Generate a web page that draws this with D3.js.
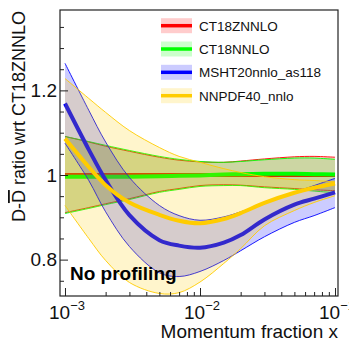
<!DOCTYPE html>
<html><head><meta charset="utf-8">
<script src="https://cdn.jsdelivr.net/npm/d3@7"></script>
<style>
html,body{margin:0;padding:0;background:#fff;}
svg{display:block;font-family:"Liberation Sans",Arial,Helvetica,sans-serif;}
</style></head>
<body>
<svg id="c" width="349" height="349"></svg>
<script>
// ---- data ----
const xValues = [0.001, 0.0015, 0.002, 0.003, 0.005, 0.007, 0.01, 0.015, 0.02, 0.03, 0.05, 0.07, 0.1];

const ct18zCentral = [1,1,1,1,1,1,1,1,1,1,1,1,1];
const ct18zUpper   = [1.091,1.078,1.068,1.056,1.042,1.035,1.031,1.030,1.033,1.038,1.043,1.044,1.042];
const ct18zLower   = [0.911,0.923,0.932,0.944,0.961,0.968,0.975,0.977,0.976,0.972,0.968,0.965,0.963];

const ct18Central  = [0.996,0.996,0.996,0.996,0.997,0.998,0.999,1.001,1.002,1.003,1.003,1.002,1.001];
const ct18Upper    = [1.091,1.079,1.070,1.058,1.044,1.037,1.032,1.030,1.032,1.036,1.040,1.040,1.037];
const ct18Lower    = [0.909,0.921,0.930,0.942,0.959,0.966,0.973,0.975,0.975,0.970,0.966,0.962,0.958];

const mshtCentral  = [1.169,1.060,0.988,0.905,0.846,0.833,0.828,0.840,0.858,0.895,0.930,0.944,0.959];
const mshtUpper    = [1.264,1.153,1.078,0.994,0.928,0.904,0.893,0.901,0.913,0.933,0.959,0.975,0.992];
const mshtLower    = [1.075,0.987,0.913,0.831,0.769,0.760,0.772,0.798,0.821,0.854,0.888,0.904,0.923];

const nnpdfCentral = [1.086,1.019,0.976,0.935,0.906,0.892,0.886,0.896,0.910,0.934,0.958,0.970,0.980];
const nnpdfUpper   = [1.228,1.181,1.148,1.105,1.065,1.044,1.030,1.015,1.006,0.996,0.989,0.987,0.984];
const nnpdfLower   = [0.928,0.850,0.798,0.746,0.720,0.722,0.747,0.791,0.826,0.880,0.916,0.935,0.951];

const seriesNames  = ["CT18ZNNLO","CT18NNLO","MSHT20nnlo_as118","NNPDF40_nnlo"];
const seriesColors = ["#ff0000","#00ff00","#0000ff","#ffcc00"];

const xMajorTicks = [0.001, 0.01, 0.1];
const xTickExponents = ["\u22123","\u22122","\u22121"];
const yMajorTicks = [0.8, 1.0, 1.2];
const yTickLabels = ["0.8","1","1.2"];

// ---- layout ----
const svg = d3.select("#c");
const L = 60, R = 338, T = 10, B = 296;

const x = d3.scaleLog().domain([Math.pow(10,-3.037), Math.pow(10,-0.978)]).range([L, R]);
const y = d3.scaleLinear().domain([0.714, 1.39]).range([B, T]);

const series = [
  {c: ct18zCentral, u: ct18zUpper, l: ct18zLower},
  {c: ct18Central,  u: ct18Upper,  l: ct18Lower},
  {c: mshtCentral,  u: mshtUpper,  l: mshtLower},
  {c: nnpdfCentral, u: nnpdfUpper, l: nnpdfLower}
];

const curve = d3.curveCatmullRom.alpha(0.5);
const area = (u,l) => d3.area().curve(curve).x((d,i)=>x(xValues[i])).y0((d,i)=>y(l[i])).y1((d,i)=>y(u[i]));
const line = arr => d3.line().curve(curve).x((d,i)=>x(xValues[i])).y((d,i)=>y(arr[i]));

const plot = svg.append("g");
series.forEach((s, k) => {
  const col = seriesColors[k];
  plot.append("path").attr("d", area(s.u, s.l)(xValues))
    .attr("fill", col).attr("fill-opacity", 0.2).attr("stroke", "none");
  plot.append("path").attr("d", line(s.u)(xValues)).attr("fill","none").attr("stroke", col).attr("stroke-width", 0.9);
  plot.append("path").attr("d", line(s.l)(xValues)).attr("fill","none").attr("stroke", col).attr("stroke-width", 0.9);
  plot.append("path").attr("d", line(s.c)(xValues)).attr("fill","none").attr("stroke", col).attr("stroke-width", 4);
});

// ---- axes ----
const xMinor = [];
[0.001,0.01].forEach(d => { for (let m=2;m<=9;m++) xMinor.push(d*m); });
const yMinor = d3.range(0.75, 1.38, 0.05).map(v=>+v.toFixed(2)).filter(v => !yMajorTicks.some(t=>Math.abs(t-v)<1e-6));

const gx = svg.append("g").attr("transform", `translate(0,${B})`);
gx.call(d3.axisBottom(x).tickValues(xMajorTicks).tickSize(-8).tickFormat(""));
const gx2 = svg.append("g").attr("transform", `translate(0,${B})`);
gx2.call(d3.axisBottom(x).tickValues(xMinor).tickSize(-4).tickFormat(""));
const gy = svg.append("g").attr("transform", `translate(${L},0)`);
gy.call(d3.axisLeft(y).tickValues(yMajorTicks).tickSize(-8).tickPadding(3).tickFormat((d,i)=>yTickLabels[i]));
const gy2 = svg.append("g").attr("transform", `translate(${L},0)`);
gy2.call(d3.axisLeft(y).tickValues(yMinor).tickSize(-4).tickFormat(""));
svg.selectAll(".domain").remove();
svg.selectAll(".tick line").attr("stroke","#222").attr("stroke-width",1);
gy.selectAll(".tick text").attr("font-size", 19).attr("fill","#111")
  .attr("font-family","Liberation Sans, Arial, sans-serif");

// frame
svg.append("rect").attr("x",L).attr("y",T).attr("width",R-L).attr("height",B-T)
  .attr("fill","none").attr("stroke","#222").attr("stroke-width",1.2);

// x tick labels with superscripts
xMajorTicks.forEach((t,i) => {
  const tx = svg.append("text").attr("x", x(t)-16).attr("y", 319).attr("font-size",19).attr("fill","#111");
  tx.append("tspan").text("10");
  tx.append("tspan").attr("dy",-9).attr("font-size",13).text(xTickExponents[i]);
});

// axis titles
svg.append("text").attr("x", R).attr("y", 338).attr("text-anchor","end")
  .attr("font-size", 19).attr("fill","#111").text("Momentum fraction x");
const yt = svg.append("text").attr("transform", "translate(25,11) rotate(-90)")
  .attr("text-anchor","end").attr("font-size", 18).attr("fill","#111");
yt.append("tspan").text("D-");
yt.append("tspan").style("text-decoration","overline").text("D");
yt.append("tspan").text(" ratio wrt CT18ZNNLO");

// label
svg.append("text").attr("x", 70).attr("y", 280).attr("font-size", 19).attr("font-weight","bold")
  .attr("fill","#000").text("No profiling");

// legend
const legY = [25.7, 49, 72.3, 95.7];
seriesNames.forEach((n,i) => {
  const g = svg.append("g");
  g.append("rect").attr("x",161).attr("y",legY[i]-7.5).attr("width",31).attr("height",15)
    .attr("fill", seriesColors[i]).attr("fill-opacity",0.2);
  g.append("line").attr("x1",161).attr("x2",192).attr("y1",legY[i]).attr("y2",legY[i])
    .attr("stroke", seriesColors[i]).attr("stroke-width",3.5);
  g.append("text").attr("x",199).attr("y",legY[i]+5).attr("font-size",13.5).attr("fill","#111").text(n);
});
</script>
</body></html>
